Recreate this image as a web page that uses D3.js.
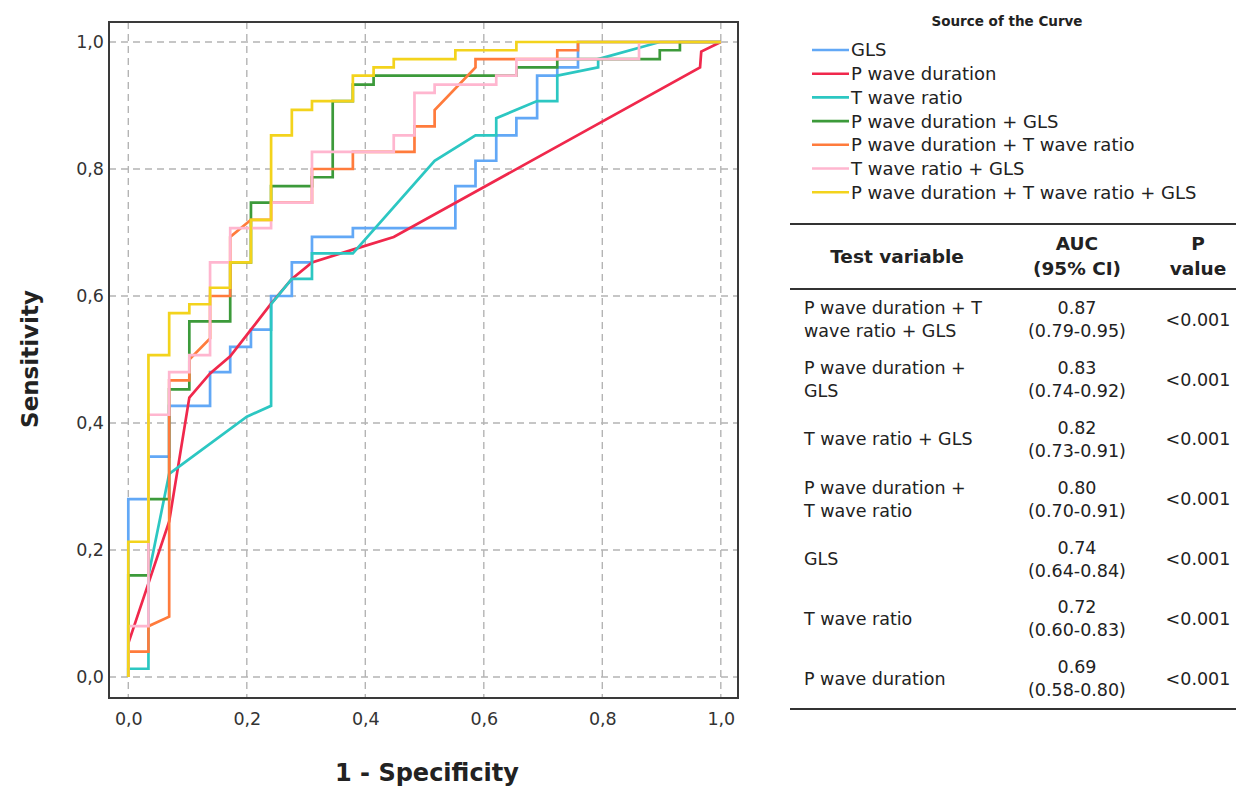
<!DOCTYPE html>
<html>
<head>
<meta charset="utf-8">
<script src="https://cdn.jsdelivr.net/npm/d3@7"></script>
<style>
  html, body { margin: 0; padding: 0; background: #fff; }
  svg { display: block; }
  text { font-family: "DejaVu Sans", sans-serif; fill: #222; }
</style>
</head>
<body>
<svg id="chart" width="1236" height="788"></svg>
<script>
// ---------- DATA ----------
const seriesNames = [
  "GLS",
  "P wave duration",
  "T wave ratio",
  "P wave duration + GLS",
  "P wave duration + T wave ratio",
  "T wave ratio + GLS",
  "P wave duration + T wave ratio + GLS"
];
const seriesColors = ["#62a8f6", "#f0284c", "#2cc7c2", "#3c9a3a", "#ff7b3c", "#ffb6cf", "#f3d31c"];

// ROC points [1 - specificity, sensitivity]
const glsPts = [[0,0],[0,0.28],[0.034,0.28],[0.034,0.347],[0.069,0.347],[0.069,0.427],[0.138,0.427],[0.138,0.48],[0.172,0.48],[0.172,0.52],[0.207,0.52],[0.207,0.547],[0.241,0.547],[0.241,0.6],[0.276,0.6],[0.276,0.653],[0.310,0.653],[0.310,0.693],[0.379,0.693],[0.379,0.707],[0.552,0.707],[0.552,0.773],[0.586,0.773],[0.586,0.813],[0.621,0.813],[0.621,0.853],[0.655,0.853],[0.655,0.88],[0.690,0.88],[0.690,0.947],[0.724,0.947],[0.724,0.96],[0.759,0.96],[0.759,1],[1,1]];
const pWavePts = [[0,0.053],[0.069,0.245],[0.103,0.44],[0.138,0.478],[0.172,0.505],[0.207,0.547],[0.241,0.588],[0.276,0.627],[0.310,0.653],[0.379,0.673],[0.448,0.693],[0.965,0.96],[0.967,0.985],[1,1]];
const tWavePts = [[0,0],[0,0.013],[0.034,0.013],[0.034,0.16],[0.069,0.32],[0.2,0.41],[0.241,0.427],[0.241,0.587],[0.276,0.627],[0.310,0.627],[0.310,0.667],[0.379,0.667],[0.517,0.813],[0.586,0.853],[0.621,0.853],[0.621,0.88],[0.690,0.907],[0.724,0.907],[0.724,0.947],[0.793,0.96],[0.793,0.973],[0.897,1],[1,1]];
const pGlsPts = [[0,0],[0,0.16],[0.034,0.16],[0.034,0.28],[0.069,0.28],[0.069,0.453],[0.103,0.453],[0.103,0.56],[0.172,0.56],[0.172,0.653],[0.207,0.653],[0.207,0.747],[0.241,0.747],[0.241,0.773],[0.310,0.773],[0.310,0.787],[0.345,0.787],[0.345,0.907],[0.379,0.907],[0.379,0.933],[0.414,0.933],[0.414,0.947],[0.655,0.947],[0.655,0.96],[0.724,0.96],[0.724,0.973],[0.897,0.973],[0.897,0.987],[0.931,0.987],[0.931,1],[1,1]];
const pTPts = [[0,0],[0,0.04],[0.034,0.04],[0.034,0.08],[0.069,0.095],[0.069,0.467],[0.103,0.467],[0.103,0.5],[0.138,0.533],[0.138,0.6],[0.172,0.6],[0.172,0.693],[0.207,0.72],[0.241,0.72],[0.241,0.747],[0.310,0.747],[0.310,0.8],[0.379,0.8],[0.379,0.827],[0.483,0.827],[0.483,0.867],[0.517,0.867],[0.517,0.893],[0.586,0.96],[0.586,0.973],[0.724,0.973],[0.724,0.987],[0.759,0.987],[0.759,1],[1,1]];
const tGlsPts = [[0,0],[0,0.08],[0.034,0.08],[0.034,0.413],[0.069,0.413],[0.069,0.48],[0.103,0.48],[0.103,0.507],[0.138,0.507],[0.138,0.653],[0.172,0.653],[0.172,0.707],[0.241,0.707],[0.241,0.747],[0.310,0.747],[0.310,0.827],[0.448,0.827],[0.448,0.853],[0.483,0.853],[0.483,0.92],[0.517,0.92],[0.517,0.933],[0.621,0.933],[0.621,0.947],[0.655,0.947],[0.655,0.973],[0.862,0.973],[0.862,1],[1,1]];
const pTGlsPts = [[0,0],[0,0.213],[0.034,0.213],[0.034,0.507],[0.069,0.507],[0.069,0.573],[0.103,0.573],[0.103,0.587],[0.138,0.587],[0.138,0.613],[0.172,0.613],[0.172,0.653],[0.207,0.653],[0.207,0.72],[0.241,0.72],[0.241,0.853],[0.276,0.853],[0.276,0.893],[0.310,0.893],[0.310,0.907],[0.379,0.907],[0.379,0.947],[0.414,0.947],[0.414,0.96],[0.448,0.96],[0.448,0.973],[0.552,0.973],[0.552,0.987],[0.655,0.987],[0.655,1],[1,1]];

const tickValues = [0, 0.2, 0.4, 0.6, 0.8, 1.0];
const tickLabels = ["0,0", "0,2", "0,4", "0,6", "0,8", "1,0"];

// Table
const tableHeaders = [["Test variable"], ["AUC", "(95% CI)"], ["P", "value"]];
const tableVariables = [
  ["P wave duration + T", "wave ratio + GLS"],
  ["P wave duration +", "GLS"],
  ["T wave ratio + GLS"],
  ["P wave duration +", "T wave ratio"],
  ["GLS"],
  ["T wave ratio"],
  ["P wave duration"]
];
const tableAUC = ["0.87", "0.83", "0.82", "0.80", "0.74", "0.72", "0.69"];
const tableCI = ["(0.79-0.95)", "(0.74-0.92)", "(0.73-0.91)", "(0.70-0.91)", "(0.64-0.84)", "(0.60-0.83)", "(0.58-0.80)"];
const tableP = ["<0.001", "<0.001", "<0.001", "<0.001", "<0.001", "<0.001", "<0.001"];

// ---------- DRAW ----------
const allSeries = [glsPts, pWavePts, tWavePts, pGlsPts, pTPts, tGlsPts, pTGlsPts];
const svg = d3.select("#chart");

const x = d3.scaleLinear().domain([0, 1]).range([128.3, 720.8]);
const y = d3.scaleLinear().domain([0, 1]).range([677, 42]);
const frame = { x0: 109, y0: 22, x1: 738, y1: 698 };

// grid
const grid = svg.append("g");
grid.selectAll(".gx").data(tickValues).join("line")
  .attr("x1", d => x(d)).attr("x2", d => x(d))
  .attr("y1", frame.y0).attr("y2", frame.y1)
  .attr("stroke", "#b4b4b4").attr("stroke-width", 1.4).attr("stroke-dasharray", "7,5");
grid.selectAll(".gy").data(tickValues).join("line")
  .attr("y1", d => y(d)).attr("y2", d => y(d))
  .attr("x1", frame.x0).attr("x2", frame.x1)
  .attr("stroke", "#b4b4b4").attr("stroke-width", 1.4).attr("stroke-dasharray", "7,5");

// curves
const line = d3.line().x(d => x(d[0])).y(d => y(d[1]));
svg.append("g").selectAll("path").data(allSeries).join("path")
  .attr("d", line)
  .attr("fill", "none")
  .attr("stroke", (d, i) => seriesColors[i])
  .attr("stroke-width", 2.7)
  .attr("stroke-linejoin", "miter");

// frame
svg.append("rect")
  .attr("x", frame.x0).attr("y", frame.y0)
  .attr("width", frame.x1 - frame.x0).attr("height", frame.y1 - frame.y0)
  .attr("fill", "none").attr("stroke", "#3a3a3a").attr("stroke-width", 2);

// axes (labels only)
const fmt = d => tickLabels[tickValues.indexOf(d)];
const xAxis = svg.append("g").attr("transform", `translate(0,${frame.y1 + 9})`)
  .call(d3.axisBottom(x).tickValues(tickValues).tickFormat(fmt).tickSize(0).tickPadding(6));
const yAxis = svg.append("g").attr("transform", `translate(${frame.x0 - 3},0)`)
  .call(d3.axisLeft(y).tickValues(tickValues).tickFormat(fmt).tickSize(0).tickPadding(2));
[xAxis, yAxis].forEach(a => {
  a.select(".domain").remove();
  a.selectAll("text").style("font-family", "DejaVu Sans, sans-serif").style("font-size", "17.5px").style("fill", "#333");
});

svg.append("text").attr("x", 427).attr("y", 781).attr("text-anchor", "middle")
  .style("font-size", "24px").style("font-weight", "bold").text("1 - Specificity");
svg.append("text").attr("transform", "translate(38,359) rotate(-90)").attr("text-anchor", "middle")
  .style("font-size", "23px").style("font-weight", "bold").text("Sensitivity");

// legend
svg.append("text").attr("x", 1007).attr("y", 26).attr("text-anchor", "middle")
  .style("font-size", "13.5px").style("font-weight", "bold").text("Source of the Curve");
const lg = svg.append("g");
seriesNames.forEach((name, i) => {
  const yy = 50 + i * 23.7;
  lg.append("line").attr("x1", 812).attr("x2", 849).attr("y1", yy).attr("y2", yy)
    .attr("stroke", seriesColors[i]).attr("stroke-width", 2.6);
  lg.append("text").attr("x", 851).attr("y", yy).attr("dy", "0.36em")
    .style("font-size", "18px").text(name);
});

// table
const tb = svg.append("g");
const colX = [897, 1077, 1198];
[224, 289, 709].forEach(yy => {
  tb.append("line").attr("x1", 790).attr("x2", 1236).attr("y1", yy).attr("y2", yy)
    .attr("stroke", "#333").attr("stroke-width", 2);
});
tableHeaders.forEach((lines, c) => {
  const cy = 256;
  lines.forEach((t, k) => {
    const yy = lines.length === 1 ? cy : cy - 12.5 + k * 25;
    tb.append("text").attr("x", colX[c]).attr("y", yy).attr("dy", "0.36em")
      .attr("text-anchor", "middle").style("font-size", "18.5px").style("font-weight", "bold").text(t);
  });
});
tableVariables.forEach((lines, r) => {
  const cy = 319.5 + r * 59.8;
  lines.forEach((t, k) => {
    const yy = lines.length === 1 ? cy : cy - 11.5 + k * 23;
    tb.append("text").attr("x", 804).attr("y", yy).attr("dy", "0.36em")
      .style("font-size", "17.5px").text(t);
  });
  tb.append("text").attr("x", colX[1]).attr("y", cy - 11.5).attr("dy", "0.36em")
    .attr("text-anchor", "middle").style("font-size", "17.5px").text(tableAUC[r]);
  tb.append("text").attr("x", colX[1]).attr("y", cy + 11.5).attr("dy", "0.36em")
    .attr("text-anchor", "middle").style("font-size", "17.5px").text(tableCI[r]);
  tb.append("text").attr("x", colX[2]).attr("y", cy).attr("dy", "0.36em")
    .attr("text-anchor", "middle").style("font-size", "17.5px").text(tableP[r]);
});
</script>
</body>
</html>
